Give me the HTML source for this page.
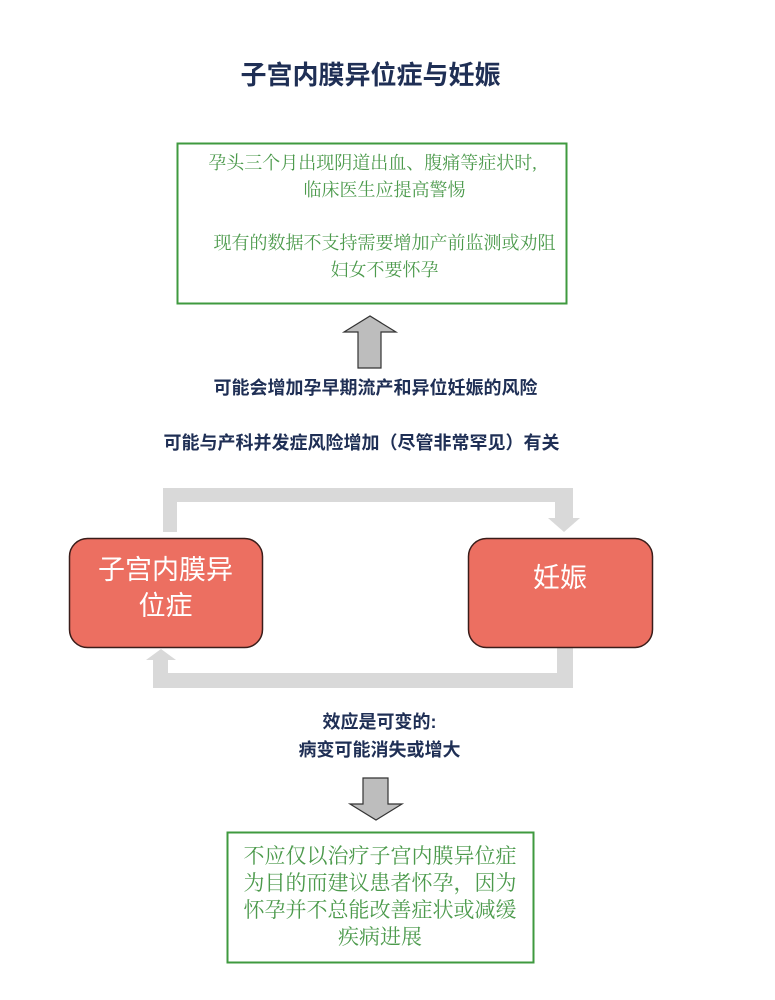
<!DOCTYPE html>
<html><head><meta charset="utf-8"><style>
body{margin:0;background:#fff;width:775px;height:1000px;overflow:hidden;position:relative;font-family:"Liberation Sans","Noto Sans CJK SC",sans-serif}
.t{position:absolute;left:0;width:775px;text-align:center;white-space:nowrap}
.navy{color:#1f2f55;font-weight:bold}
.g{color:#4c9a4c;font-family:"Liberation Serif","Noto Serif CJK SC",serif}
</style></head><body>
<svg width="775" height="1000" style="position:absolute;left:0;top:0">
<rect x="177.5" y="143.5" width="389" height="160" fill="#fff" stroke="#3f9a3f" stroke-width="2"/>
<polygon points="358,368 381,368 381,332 396,332 370,316 344,332 358,332" fill="#bdbdbd" stroke="#333" stroke-width="1.2"/>
<rect x="163" y="488" width="14" height="44" fill="#d9d9d9"/>
<rect x="163" y="488" width="410" height="14" fill="#d9d9d9"/>
<rect x="555" y="488" width="18" height="30" fill="#d9d9d9"/>
<polygon points="548,518 580,518 564,532" fill="#d9d9d9"/>
<rect x="557" y="648" width="16" height="40" fill="#d9d9d9"/>
<rect x="153" y="673" width="420" height="15" fill="#d9d9d9"/>
<rect x="153" y="658" width="15" height="30" fill="#d9d9d9"/>
<polygon points="146,660 176,660 161,649" fill="#d9d9d9"/>
<rect x="69.5" y="538.5" width="193" height="109" rx="18" fill="#ec6f61" stroke="#3a1d1a" stroke-width="1.5"/>
<rect x="468.5" y="538.5" width="184" height="109" rx="18" fill="#ec6f61" stroke="#3a1d1a" stroke-width="1.5"/>
<polygon points="363,778 388,778 388,804 402,804 376,820 350,804 363,804" fill="#bdbdbd" stroke="#333" stroke-width="1.2"/>
<rect x="227.5" y="832.5" width="306" height="130" fill="#fff" stroke="#3f9a3f" stroke-width="2"/>
</svg>
<div class="t navy" style="top:58px;font-size:26px;line-height:34px;left:-17px">子宫内膜异位症与妊娠</div>
<div class="t g" style="top:150px;font-size:18px;line-height:27px;left:-3px"><span style="position:relative;left:-12px">孕头三个月出现阴道出血、腹痛等症状时,</span><br>临床医生应提高警惕</div>
<div class="t g" style="top:230px;font-size:18px;line-height:27px;left:-3px">现有的数据不支持需要增加产前监测或劝阻<br>妇女不要怀孕</div>
<div class="t navy" style="top:375px;font-size:18px;line-height:26px;left:-12px">可能会增加孕早期流产和异位妊娠的风险</div>
<div class="t navy" style="top:430px;font-size:18px;line-height:26px;left:-26px">可能与产科并发症风险增加（尽管非常罕见）有关</div>
<div class="t" style="left:69px;width:193px;top:552px;font-size:27px;line-height:36px;color:#fff">子宫内膜异<br>位症</div>
<div class="t" style="left:468px;width:184px;top:560px;font-size:27px;line-height:36px;color:#fff">妊娠</div>
<div class="t navy" style="top:708px;font-size:18px;line-height:28px;left:-8px">效应是可变的:<br>病变可能消失或增大</div>
<div class="t g" style="left:227px;width:306px;top:843px;font-size:21px;line-height:27px">不应仅以治疗子宫内膜异位症<br>为目的而建议患者怀孕，因为<br>怀孕并不总能改善症状或减缓<br>疾病进展</div>
</body></html>
